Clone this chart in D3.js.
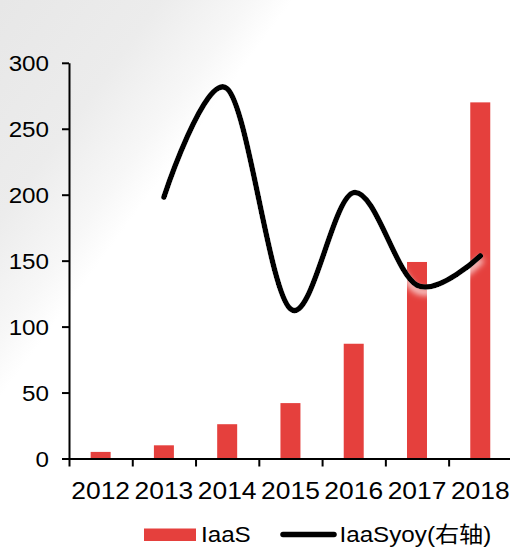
<!DOCTYPE html>
<html>
<head>
<meta charset="utf-8">
<script src="https://cdn.jsdelivr.net/npm/d3@7"></script>
<style>
  html, body { margin: 0; padding: 0; background: #fff; }
  svg { display: block; }
  text { font-family: "Liberation Sans", Arial, "Noto Sans CJK SC", sans-serif; fill: #000; }
</style>
</head>
<body>
<div id="chart"></div>
<script>
// IaaS market size by year (bars, left axis) and its year-over-year growth (line, right axis)
const years = ['2012', '2013', '2014', '2015', '2016', '2017', '2018'];
const iaasValues = [5, 10, 26, 42, 87, 149, 270];
const yoyYears = ['2013', '2014', '2015', '2016', '2017', '2018'];
const iaasYoy = [1.09, 1.57, 0.595, 1.11, 0.70, 0.83];
const leftTicks = [0, 50, 100, 150, 200, 250, 300];
const legendLabels = ['IaaS', 'IaaSyoy(右轴)'];

const W = 510, H = 547;
const RED = '#e5403d';
const SX = 1.1; // horizontal stretch applied to all text

const svg = d3.select('#chart').append('svg')
  .attr('width', W).attr('height', H);

const defs = svg.append('defs');

// soft grey shading in the upper-left corner
const bg = defs.append('linearGradient')
  .attr('id', 'cornerShade')
  .attr('gradientUnits', 'userSpaceOnUse')
  .attr('x1', 0).attr('y1', 0).attr('x2', 190).attr('y2', 140);
bg.append('stop').attr('offset', 0).attr('stop-color', '#e7e7e7');
bg.append('stop').attr('offset', 0.55).attr('stop-color', '#ececec');
bg.append('stop').attr('offset', 0.85).attr('stop-color', '#f7f7f7');
bg.append('stop').attr('offset', 1).attr('stop-color', '#ffffff');

// white glow under the growth line
const halo = defs.append('filter').attr('id', 'halo')
  .attr('x', '-10%').attr('y', '-10%').attr('width', '120%').attr('height', '130%');
halo.append('feOffset').attr('in', 'SourceAlpha').attr('dy', 5).attr('result', 'off');
halo.append('feGaussianBlur').attr('in', 'off').attr('stdDeviation', 3).attr('result', 'blur');
halo.append('feFlood').attr('flood-color', '#ffffff').attr('flood-opacity', 0.9).attr('result', 'white');
halo.append('feComposite').attr('in', 'white').attr('in2', 'blur').attr('operator', 'in').attr('result', 'glow');
const merge = halo.append('feMerge');
merge.append('feMergeNode').attr('in', 'glow');
merge.append('feMergeNode').attr('in', 'SourceGraphic');

svg.append('rect').attr('width', W).attr('height', H).attr('fill', 'url(#cornerShade)');

// scales
const x = d3.scaleBand().domain(years).range([69, 511.9]).padding(0);
const y = d3.scaleLinear().domain([0, 300]).range([458.5, 62.8]);
const yRight = d3.scaleLinear().domain([-0.067, 1.685]).range([458.5, 62.8]);
const boundary = d3.scaleLinear().domain([0, years.length]).range(x.range());

// bars
const barW = x.bandwidth() * 0.316;
svg.append('g').selectAll('rect')
  .data(years.map((yr, i) => ({ yr, v: iaasValues[i] })))
  .join('rect')
  .attr('x', d => x(d.yr) + (x.bandwidth() - barW) / 2)
  .attr('y', d => y(d.v))
  .attr('width', barW)
  .attr('height', d => y(0) - y(d.v))
  .attr('fill', RED);

// left axis
const yAxis = svg.append('g')
  .attr('transform', `translate(${x.range()[0]},0)`)
  .call(d3.axisLeft(y).tickValues(leftTicks).tickSize(7).tickSizeOuter(0));
yAxis.selectAll('path, line').attr('stroke', '#000').attr('stroke-width', 2);
yAxis.selectAll('text')
  .attr('font-size', 22)
  .attr('x', -20 / SX)
  .attr('dy', '0.35em')
  .attr('transform', `scale(${SX},1)`)
  .attr('fill', '#000');

// bottom axis: boundary ticks
const xTicks = svg.append('g')
  .attr('transform', `translate(0,${y(0)})`)
  .call(d3.axisBottom(boundary).tickValues(d3.range(0, years.length + 1)).tickFormat('').tickSize(8).tickSizeOuter(0));
xTicks.selectAll('path, line').attr('stroke', '#000').attr('stroke-width', 2);

// bottom axis: category labels
const xLabels = svg.append('g')
  .attr('transform', `translate(0,${y(0)})`)
  .call(d3.axisBottom(x).tickSize(0));
xLabels.select('.domain').remove();
xLabels.selectAll('text')
  .attr('font-size', 24)
  .attr('x', 0)
  .attr('y', 40.5)
  .attr('dy', 0)
  .attr('transform', `scale(${SX},1)`)
  .attr('fill', '#000');

// growth line
const line = d3.line()
  .x(d => x(d.yr) + x.bandwidth() / 2)
  .y(d => yRight(d.v))
  .curve(d3.curveCardinal.tension(0));
svg.append('path')
  .datum(yoyYears.map((yr, i) => ({ yr, v: iaasYoy[i] })))
  .attr('d', line)
  .attr('fill', 'none')
  .attr('stroke', '#000')
  .attr('stroke-width', 5.5)
  .attr('stroke-linecap', 'round')
  .attr('stroke-linejoin', 'round')
  .attr('filter', 'url(#halo)');

// legend
const lg = svg.append('g');
lg.append('rect').attr('x', 144).attr('y', 528.5).attr('width', 52).attr('height', 12.5).attr('fill', RED);
lg.append('text').attr('transform', `translate(201,541.5) scale(${SX},1)`)
  .attr('font-size', 22).text(legendLabels[0]);
lg.append('line').attr('x1', 283).attr('x2', 334).attr('y1', 534.5).attr('y2', 534.5)
  .attr('stroke', '#000').attr('stroke-width', 5.5).attr('stroke-linecap', 'round');
lg.append('text').attr('transform', `translate(339.5,541.5) scale(${SX},1)`)
  .attr('font-size', 22).text(legendLabels[1]);
</script>
</body>
</html>
